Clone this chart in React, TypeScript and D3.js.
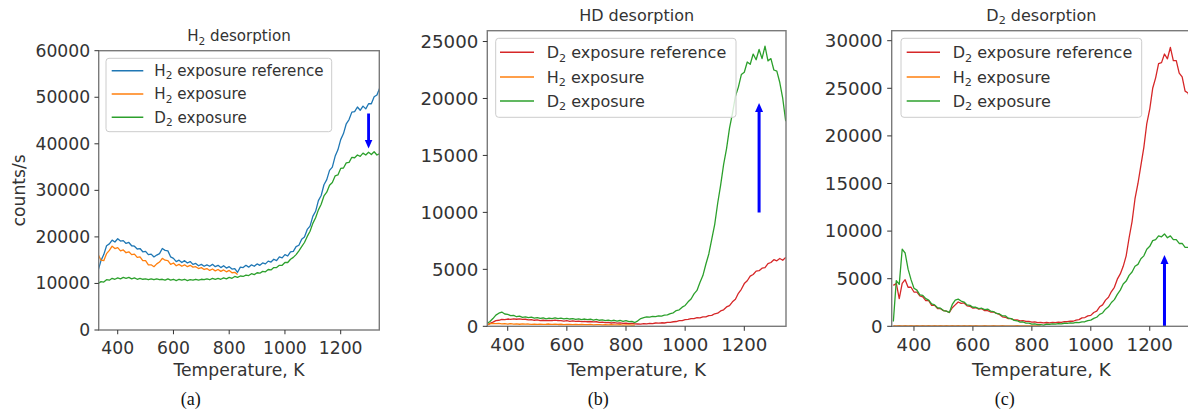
import React from "react";
import * as d3 from "d3";

// Temperature grid shared by the desorption traces (K)
const T_FIRST = 330;
const T_STEP = 10;

// ---- (a) H2 desorption, counts/s ----
const h2RefA = [
  12800, 14900, 16200, 18100, 18500, 19300, 18900, 19600, 19100, 19200,
  18600, 18800, 18100, 18000, 17400, 17500, 16800, 16900, 16200, 16300,
  15700, 16100, 16400, 17500, 17100, 17000, 15700, 15400, 14700, 15000,
  14500, 14900, 14400, 14700, 14100, 14300, 13800, 14100, 13700, 14000,
  13700, 14100, 13600, 13900, 13400, 13800, 13300, 13600, 13100, 13200,
  12400, 13500, 13400, 13900, 13500, 14000, 13700, 14200, 13900, 14400,
  14200, 14800, 14600, 15200, 14900, 15700, 15500, 16200, 15900, 16800,
  16900, 17900, 18200, 19500, 20000, 21600, 22300, 24400, 25500, 27800,
  28900, 31200, 32300, 34300, 35000, 37300, 38700, 40900, 42200, 44300,
  45200, 46800, 46900, 47900, 47200, 48100, 47500, 48600, 48600, 50100,
  50500, 52000,
];
const h2ExpA = [
  16200, 15000, 14900, 16400, 17100, 18000, 17500, 17700, 17000, 17200,
  16600, 16800, 16200, 16300, 15600, 15700, 14900, 14900, 14000, 14000,
  13600, 14200, 14600, 15400, 15000, 14900, 14100, 14400, 13800, 14100,
  13700, 14000, 13600, 13900, 13500, 13600, 13200, 13400, 13000, 13200,
  12800, 13100, 12700, 13000, 12600, 12900, 12500, 12800, 12300, 12400,
  11900,
];
const d2ExpA = [
  10000, 10400, 10300, 10800, 10700, 11100, 10900, 11200, 11000, 11300,
  11100, 11300, 11000, 11200, 10900, 11100, 10900, 11000, 10800, 11000,
  10800, 11000, 10800, 10900, 10700, 11000, 10700, 10900, 10600, 10900,
  10700, 10900, 10600, 10800, 10700, 10900, 10700, 10900, 10800, 11000,
  10800, 11100, 10900, 11100, 10900, 11200, 11000, 11300, 11100, 11500,
  11300, 11600, 11500, 11800, 11700, 12100, 11900, 12300, 12200, 12600,
  12500, 13000, 12900, 13400, 13400, 13900, 13900, 14500, 14500, 15200,
  15600, 16200, 17000, 17900, 18800, 20100, 21200, 22900, 24100, 25800,
  27000, 28800, 29600, 31100, 31700, 33100, 33300, 34700, 34800, 35900,
  36000, 37100, 37000, 37600, 37300, 38000, 37600, 38200, 37700, 38300,
  37600, 37900,
];

// ---- (b) HD desorption ----
const d2RefB = [
  100, 260, 370, 500, 530, 600, 580, 640, 610, 660,
  620, 650, 600, 620, 570, 590, 530, 560, 500, 530,
  490, 520, 500, 540, 490, 500, 460, 490, 440, 470,
  430, 450, 410, 440, 400, 420, 380, 400, 350, 370,
  320, 340, 290, 320, 270, 300, 250, 280, 230, 250,
  210, 200, 190, 230, 210, 260, 240, 290, 270, 310,
  290, 340, 350, 400, 420, 490, 500, 580, 600, 680,
  680, 760, 740, 830, 830, 940, 960, 1100, 1150, 1350,
  1450, 1700, 1820, 2150, 2380, 2900, 3250, 3750, 4000, 4400,
  4550, 4850, 4880, 5100, 5150, 5500, 5600, 5850, 5750, 5950,
  5800, 6050,
];
const h2ExpB = [
  150, 220, 260, 230, 250, 210, 240, 200, 230, 190,
  220, 180, 210, 190, 200, 170, 200, 160, 190, 170,
  180, 200, 170, 190, 160, 180, 150, 170, 160, 150,
  170, 140, 160, 150, 140, 160, 130, 150, 140, 130,
  150, 120, 140, 130, 120, 140, 110, 130, 120, 110,
  100,
];
const d2ExpB = [
  250, 420, 680, 980, 1150, 1250, 1080, 1050, 930, 960,
  840, 900, 790, 830, 760, 800, 720, 760, 690, 730,
  660, 720, 680, 740, 670, 710, 650, 700, 640, 680,
  610, 660, 590, 640, 580, 620, 550, 600, 530, 570,
  500, 550, 480, 530, 460, 510, 440, 490, 410, 430,
  330, 480, 680, 760, 820, 800, 870, 850, 920, 900,
  980, 1000, 1120, 1180, 1380, 1450, 1680, 1830, 2150, 2400,
  2850, 3150, 3850, 4450, 5450, 6350, 7650, 8950, 10800, 12400,
  14200, 15600, 17400, 18700, 20200, 21000, 22100, 22300, 23200, 23000,
  23900, 23400, 24300, 23500, 24600, 23300, 23500, 22500, 22400, 21400,
  20000, 18000,
];

// ---- (c) D2 desorption ----
const d2RefC = [
  4300, 4500, 2900, 4500, 4900, 4100, 4100, 3600, 3600, 3200,
  3100, 2700, 2700, 2200, 2200, 1850, 1850, 1650, 1600, 1450,
  1950, 2250, 2550, 2400, 2450, 2150, 2100, 1900, 1950, 1800,
  1850, 1650, 1650, 1500, 1500, 1350, 1250, 1000, 950, 800,
  800, 660, 680, 580, 600, 520, 520, 430, 460, 380,
  400, 350, 400, 360, 410, 380, 440, 420, 500, 480,
  540, 530, 640, 700, 880, 920, 1100, 1150, 1450, 1600,
  2050, 2250, 2750, 3050, 3650, 4100, 4950, 5500, 6300, 7400,
  9300, 11000, 13400, 15000, 16900, 18800, 21300, 22800, 25000, 26100,
  27600, 27700, 28600, 28100, 29300, 27900, 27900, 26600, 26200, 24700,
  24500, 23500,
];
const h2ExpC = [
  60, 40, 70, 50, 80, 40, 60, 50, 70, 40,
  60, 50, 70, 40, 60, 50, 60, 40, 70, 50,
  60, 40, 60, 50, 70, 40, 60, 50, 60, 40,
  50, 60, 40, 50, 60, 40, 50, 60, 40, 50,
  40, 50, 60, 40, 50, 40, 50, 40, 50, 40,
  30,
];
const d2ExpC = [
  500, 4800, 4400, 8100, 7700, 6000, 4900, 4000, 3800, 3300,
  3250, 2900, 2750, 2350, 2250, 1950, 1900, 1650, 1600, 1450,
  2300, 2750, 2850, 2650, 2550, 2250, 2200, 2000, 2000, 1850,
  1900, 1750, 1800, 1600, 1550, 1350, 1300, 1100, 1100, 850,
  800, 620, 580, 440, 450, 330, 340, 230, 250, 170,
  180, 120, 230, 200, 260, 230, 290, 260, 320, 300,
  360, 340, 410, 390, 470, 480, 600, 650, 830, 950,
  1250, 1400, 1800, 2050, 2500, 2800, 3350, 3800, 4450, 4750,
  5350, 5700, 6300, 6500, 7100, 7400, 8100, 8400, 9000, 9100,
  9500, 9400, 9700, 9300, 9500, 9100, 9100, 8700, 8700, 8300,
  8300, 7900,
];

// Tick values
const xTicks = [400, 600, 800, 1000, 1200];
const yTicksA = [0, 10000, 20000, 30000, 40000, 50000, 60000];
const yTicksB = [0, 5000, 10000, 15000, 20000, 25000];
const yTicksC = [0, 5000, 10000, 15000, 20000, 25000, 30000];

// Arrows: [temperature, from value, to value]
const arrowA = [1300, 46500, 39000];
const arrowB = [1250, 10000, 19600];
const arrowC = [1250, 0, 7500];

const C_BLUE = "#1f77b4";
const C_ORANGE = "#ff7f0e";
const C_GREEN = "#2ca02c";
const C_RED = "#d62728";
const TEXT = "#333333";
const SPINE = "#7a7a7a";
const FONT = "DejaVu Sans, sans-serif";

type Part = { t: string; sub?: boolean };
type Series = { label: Part[]; color: string; values: number[] };

const lbl = (head: string, sub: string | null, tail: string): Part[] =>
  sub ? [{ t: head }, { t: sub, sub: true }, { t: tail }] : [{ t: head + tail }];

const toPoints = (values: number[]): [number, number][] =>
  values.map((v, i) => [T_FIRST + i * T_STEP, v]);

function RichText({ parts, fs }: { parts: Part[]; fs: number }) {
  const shift = fs * 0.22;
  const out: React.ReactNode[] = [];
  let down = false;
  parts.forEach((p, i) => {
    if (p.sub) {
      out.push(
        <tspan key={i} fontSize={fs * 0.7} dy={shift}>
          {p.t}
        </tspan>
      );
      down = true;
    } else {
      out.push(
        <tspan key={i} dy={down ? -shift : 0}>
          {p.t}
        </tspan>
      );
      down = false;
    }
  });
  return <>{out}</>;
}

type PanelCfg = {
  id: string;
  left: number;
  right: number;
  top: number;
  bottom: number;
  xDomain: [number, number];
  yMax: number;
  yTicks: number[];
  f: number;
  title: Part[];
  series: Series[];
  legend: { x: number; y: number; w: number; h: number; rows: number[]; l0: number; l1: number; tx: number };
  arrow: number[];
  caption: string;
  captionX: number;
  yLabel?: string;
};

function Panel({ cfg }: { cfg: PanelCfg }) {
  const x = d3.scaleLinear().domain(cfg.xDomain).range([cfg.left, cfg.right]);
  const y = d3.scaleLinear().domain([0, cfg.yMax]).range([cfg.bottom, cfg.top]);
  const line = d3
    .line<[number, number]>()
    .x((d) => x(d[0]))
    .y((d) => y(d[1]));
  const f = cfg.f;
  const tickFs = 18.2 * f;
  const legFs = 16 * f;
  const titleFs = 16 * f;
  const tickLen = 4.5 * f;
  const cx = (cfg.left + cfg.right) / 2;

  const [aT, aFrom, aTo] = cfg.arrow;
  const ax = x(aT);
  const ay0 = y(aFrom);
  const ay1 = y(aTo);
  const dir = ay1 > ay0 ? 1 : -1;
  const headL = 9 * f;
  const headW = 4 * f;

  return (
    <g>
      <defs>
        <clipPath id={`clip-${cfg.id}`}>
          <rect x={cfg.left} y={cfg.top} width={cfg.right - cfg.left} height={cfg.bottom - cfg.top} />
        </clipPath>
      </defs>
      <g clipPath={`url(#clip-${cfg.id})`}>
        {cfg.series.map((s, i) => (
          <path
            key={i}
            d={line(toPoints(s.values)) || ""}
            fill="none"
            stroke={s.color}
            strokeWidth={1.3}
            strokeLinejoin="round"
          />
        ))}
        {/* annotation arrow */}
        <line x1={ax} y1={ay0} x2={ax} y2={ay1 - dir * headL} stroke="#0000ff" strokeWidth={3 * f} />
        <polygon
          points={`${ax - headW},${ay1 - dir * headL} ${ax + headW},${ay1 - dir * headL} ${ax},${ay1}`}
          fill="#0000ff"
        />
      </g>

      {/* spines */}
      <rect
        x={cfg.left}
        y={cfg.top}
        width={cfg.right - cfg.left}
        height={cfg.bottom - cfg.top}
        fill="none"
        stroke={SPINE}
        strokeWidth={1.4}
      />

      {/* x axis */}
      {xTicks.map((t) => (
        <g key={`x${t}`}>
          <line x1={x(t)} x2={x(t)} y1={cfg.bottom} y2={cfg.bottom + tickLen} stroke={TEXT} strokeWidth={1} />
          <text
            x={x(t)}
            y={cfg.bottom + 25 * f}
            textAnchor="middle"
            fontSize={tickFs}
            fontFamily={FONT}
            fill={TEXT}
          >
            {t}
          </text>
        </g>
      ))}
      <text x={cx} y={375.7} textAnchor="middle" fontSize={tickFs} fontFamily={FONT} fill={TEXT}>
        Temperature, K
      </text>

      {/* y axis */}
      {cfg.yTicks.map((t) => (
        <g key={`y${t}`}>
          <line x1={cfg.left - tickLen} x2={cfg.left} y1={y(t)} y2={y(t)} stroke={TEXT} strokeWidth={1} />
          <text
            x={cfg.left - tickLen - 4.5 * f}
            y={y(t)}
            dy="0.35em"
            textAnchor="end"
            fontSize={tickFs}
            fontFamily={FONT}
            fill={TEXT}
          >
            {t}
          </text>
        </g>
      ))}
      {cfg.yLabel && (
        <text
          transform={`translate(25,${(cfg.top + cfg.bottom) / 2}) rotate(-90)`}
          textAnchor="middle"
          fontSize={tickFs}
          fontFamily={FONT}
          fill={TEXT}
        >
          {cfg.yLabel}
        </text>
      )}

      {/* title */}
      <text x={cx} y={cfg.top - 9.8 * f} textAnchor="middle" fontSize={titleFs} fontFamily={FONT} fill={TEXT}>
        <RichText parts={cfg.title} fs={titleFs} />
      </text>

      {/* legend */}
      <rect
        x={cfg.legend.x}
        y={cfg.legend.y}
        width={cfg.legend.w}
        height={cfg.legend.h}
        rx={3}
        fill="#ffffff"
        fillOpacity={0.8}
        stroke="#cccccc"
        strokeWidth={1}
      />
      {cfg.series.map((s, i) => (
        <g key={`l${i}`}>
          <line
            x1={cfg.legend.l0}
            x2={cfg.legend.l1}
            y1={cfg.legend.rows[i]}
            y2={cfg.legend.rows[i]}
            stroke={s.color}
            strokeWidth={1.5}
          />
          <text
            x={cfg.legend.tx}
            y={cfg.legend.rows[i] + legFs * 0.36}
            fontSize={legFs}
            fontFamily={FONT}
            fill={TEXT}
          >
            <RichText parts={s.label} fs={legFs} />
          </text>
        </g>
      ))}

      {/* caption */}
      <text
        x={cfg.captionX}
        y={405}
        textAnchor="middle"
        fontSize={18}
        fontFamily="Liberation Serif, DejaVu Serif, serif"
        fill="#111"
      >
        {cfg.caption}
      </text>
    </g>
  );
}

const refH2 = lbl("H", "2", " exposure reference");
const refD2 = lbl("D", "2", " exposure reference");
const expH2 = lbl("H", "2", " exposure");
const expD2 = lbl("D", "2", " exposure");

const panels: PanelCfg[] = [
  {
    id: "a",
    left: 98.7,
    right: 379.3,
    top: 50.7,
    bottom: 330,
    xDomain: [331.8, 1338.5],
    yMax: 60000,
    yTicks: yTicksA,
    f: 0.945,
    title: lbl("H", "2", " desorption"),
    series: [
      { label: refH2, color: C_BLUE, values: h2RefA },
      { label: expH2, color: C_ORANGE, values: h2ExpA },
      { label: expD2, color: C_GREEN, values: d2ExpA },
    ],
    legend: { x: 106, y: 58.3, w: 225.7, h: 73.4, rows: [70.7, 94, 117.3], l0: 111.7, l1: 143.3, tx: 154.3 },
    arrow: arrowA,
    caption: "(a)",
    captionX: 190.7,
    yLabel: "counts/s",
  },
  {
    id: "b",
    left: 487.3,
    right: 786,
    top: 30.7,
    bottom: 326.3,
    xDomain: [331, 1341],
    yMax: 25950,
    yTicks: yTicksB,
    f: 1,
    title: [{ t: "HD desorption" }],
    series: [
      { label: refD2, color: C_RED, values: d2RefB },
      { label: expH2, color: C_ORANGE, values: h2ExpB },
      { label: expD2, color: C_GREEN, values: d2ExpB },
    ],
    legend: { x: 495.7, y: 38.3, w: 240.3, h: 79, rows: [52.3, 77, 101], l0: 500, l1: 534, tx: 546.7 },
    arrow: arrowB,
    caption: "(b)",
    captionX: 598.3,
  },
  {
    id: "c",
    left: 891.7,
    right: 1191,
    top: 30.7,
    bottom: 326.3,
    xDomain: [324.4, 1340],
    yMax: 31050,
    yTicks: yTicksC,
    f: 1,
    title: lbl("D", "2", " desorption"),
    series: [
      { label: refD2, color: C_RED, values: d2RefC },
      { label: expH2, color: C_ORANGE, values: h2ExpC },
      { label: expD2, color: C_GREEN, values: d2ExpC },
    ],
    legend: { x: 901, y: 38.3, w: 240.7, h: 79, rows: [52.3, 77, 101], l0: 906.7, l1: 940, tx: 952.7 },
    arrow: arrowC,
    caption: "(c)",
    captionX: 1004.7,
  },
];

export default function App() {
  return (
    <svg
      width={1188}
      height={414}
      viewBox="0 0 1188 414"
      style={{ position: "absolute", left: 0, top: 0, background: "#ffffff" }}
    >
      <rect x={0} y={0} width={1188} height={414} fill="#ffffff" />
      {panels.map((p) => (
        <Panel key={p.id} cfg={p} />
      ))}
    </svg>
  );
}
